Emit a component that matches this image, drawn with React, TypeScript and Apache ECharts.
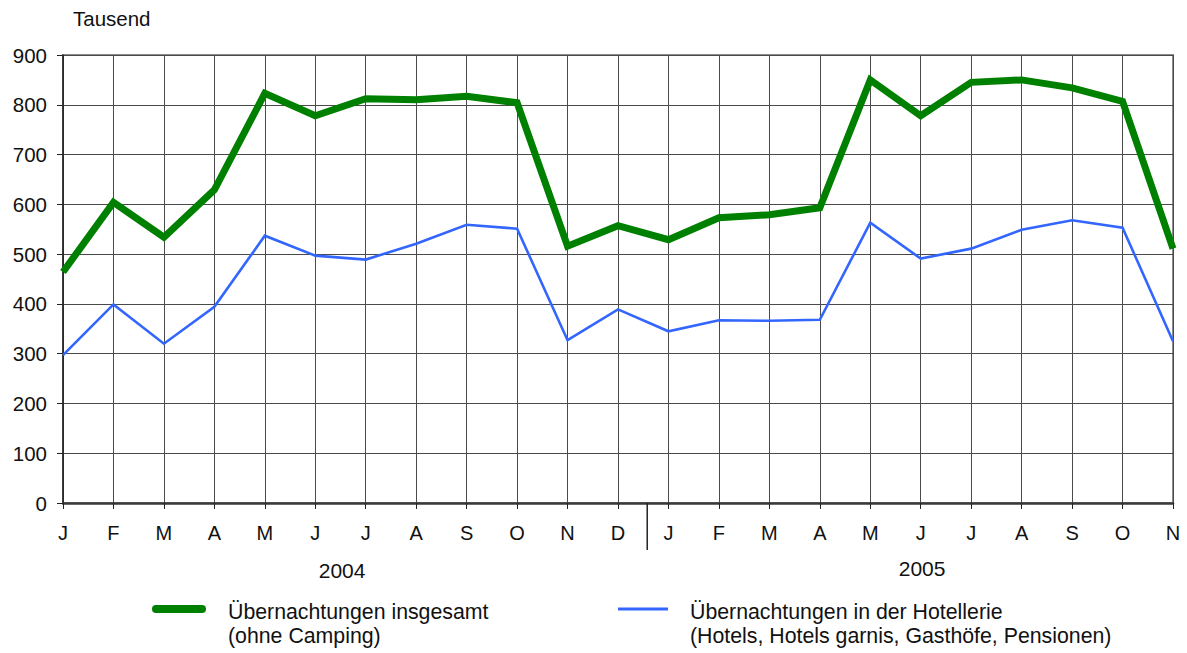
import React, { useEffect, useRef } from "react";
import * as echarts from "echarts";

const months = ["J", "F", "M", "A", "M", "J", "J", "A", "S", "O", "N", "D", "J", "F", "M", "A", "M", "J", "J", "A", "S", "O", "N"];
const years = ["2004", "2005"];
const seriesNames = [
  "Übernachtungen insgesamt\n(ohne Camping)",
  "Übernachtungen in der Hotellerie\n(Hotels, Hotels garnis, Gasthöfe, Pensionen)",
];
const totalValues = [464, 604, 534, 629, 823, 778, 812, 810, 817, 804, 516, 557, 529, 573, 579, 593, 850, 778, 845, 850, 834, 807, 511];
const hotelValues = [297, 399, 320, 394, 537, 497, 489, 521, 559, 551, 327, 389, 345, 367, 366, 368, 563, 491, 511, 549, 568, 553, 325];
const yTicks = { min: 0, max: 900, interval: 100 };
const unitLabel = "Tausend";

const FONT = '"Liberation Sans", Arial, Helvetica, sans-serif';
const GREEN = "#008000";
const BLUE = "#3366ff";
const GRIDLINE = "#4a4a4a";

export default function App() {
  const ref = useRef<HTMLDivElement>(null);
  useEffect(() => {
    document.body.style.margin = "0";
    if (!ref.current) return;
    const chart = echarts.init(ref.current, undefined, { renderer: "svg" });
    const option: any = {
      animation: false,
      backgroundColor: "#ffffff",
      textStyle: { fontFamily: FONT },
      grid: {
        left: 63,
        right: 14,
        top: 55,
        bottom: 150,
        show: true,
        borderColor: "#8c8c8c",
        borderWidth: 2,
      },
      xAxis: {
        type: "category",
        data: months,
        boundaryGap: false,
        axisLine: { show: true, lineStyle: { color: "#3a3a3a", width: 2.5 } },
        axisTick: { show: true, length: 6, interval: 0, lineStyle: { color: "#222", width: 1 } },
        axisLabel: { interval: 0, margin: 20, color: "#111", fontSize: 20, lineHeight: 20, fontFamily: FONT },
        splitLine: { show: true, interval: 0, lineStyle: { color: GRIDLINE, width: 1 } },
      },
      yAxis: {
        type: "value",
        min: yTicks.min,
        max: yTicks.max,
        interval: yTicks.interval,
        axisLine: { show: true, lineStyle: { color: "#222", width: 1.5 } },
        axisTick: { show: true, length: 6, lineStyle: { color: "#222", width: 1 } },
        axisLabel: { margin: 16, color: "#111", fontSize: 20.5, fontFamily: FONT },
        splitLine: { show: true, lineStyle: { color: GRIDLINE, width: 1 } },
      },
      series: [
        {
          name: seriesNames[0],
          type: "line",
          data: totalValues,
          showSymbol: false,
          symbol: "none",
          z: 3,
          lineStyle: { color: GREEN, width: 7, join: "miter" },
          itemStyle: { color: GREEN },
        },
        {
          name: seriesNames[1],
          type: "line",
          data: hotelValues,
          showSymbol: false,
          symbol: "none",
          z: 2,
          lineStyle: { color: BLUE, width: 2.6, join: "miter" },
          itemStyle: { color: BLUE },
        },
      ],
    };
    chart.setOption(option);

    // annotations positioned from the axis scale
    const [x0, y0] = chart.convertToPixel({ gridIndex: 0 }, [11, 0]) as number[];
    const [x1] = chart.convertToPixel({ gridIndex: 0 }, [12, 0]) as number[];
    const sepX = (x0 + x1) / 2 + 4;
    const [firstX, yTop] = chart.convertToPixel({ gridIndex: 0 }, [0, yTicks.max]) as number[];
    const [lastX] = chart.convertToPixel({ gridIndex: 0 }, [months.length - 1, 0]) as number[];
    const year1X = (firstX + sepX) / 2 - 13;
    const year2X = (sepX + lastX) / 2 + 12;

    chart.setOption({
      graphic: [
        {
          type: "text",
          x: firstX + 10,
          y: yTop - 37,
          style: { text: unitLabel, fontSize: 20.5, fontFamily: FONT, fill: "#111", align: "left", verticalAlign: "middle" },
        },
        {
          type: "line",
          shape: { x1: sepX, y1: y0, x2: sepX, y2: y0 + 47 },
          style: { stroke: "#222", lineWidth: 1.5 },
          z: 10,
        },
        {
          type: "text",
          x: year1X,
          y: y0 + 67,
          style: { text: years[0], fontSize: 21, fontFamily: FONT, fill: "#111", align: "center", verticalAlign: "middle" },
        },
        {
          type: "text",
          x: year2X,
          y: y0 + 65,
          style: { text: years[1], fontSize: 21, fontFamily: FONT, fill: "#111", align: "center", verticalAlign: "middle" },
        },
        {
          type: "line",
          shape: { x1: 156, y1: 609, x2: 202, y2: 609 },
          style: { stroke: GREEN, lineWidth: 8, lineCap: "round" },
        },
        {
          type: "text",
          x: 228,
          y: 600,
          style: { text: seriesNames[0], fontSize: 21.3, lineHeight: 24, fontFamily: FONT, fill: "#111", align: "left", verticalAlign: "top" },
        },
        {
          type: "line",
          shape: { x1: 618, y1: 609, x2: 668, y2: 609 },
          style: { stroke: BLUE, lineWidth: 3 },
        },
        {
          type: "text",
          x: 690,
          y: 600,
          style: { text: seriesNames[1], fontSize: 21.3, lineHeight: 24, fontFamily: FONT, fill: "#111", align: "left", verticalAlign: "top" },
        },
      ],
    });

    return () => chart.dispose();
  }, []);
  return <div ref={ref} style={{ width: 1187, height: 653 }} />;
}
